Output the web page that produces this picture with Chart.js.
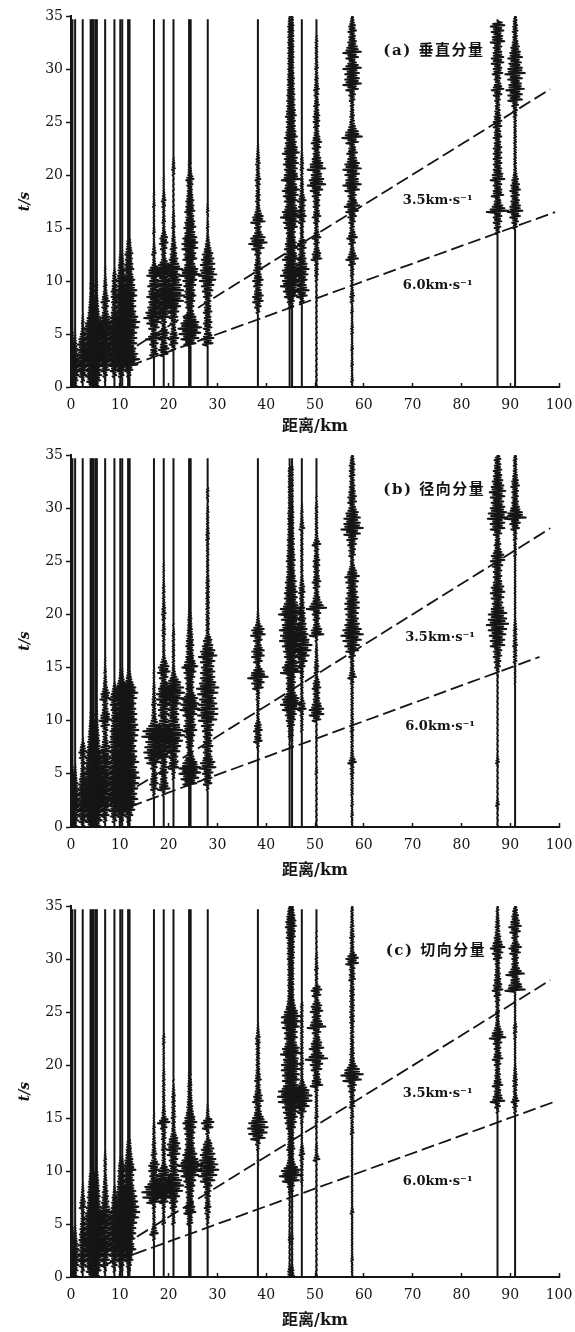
<!DOCTYPE html>
<html>
<head>
<meta charset="utf-8">
<script src="https://cdn.jsdelivr.net/npm/chart.js@4"></script>
<style>
html, body { margin: 0; padding: 0; background: #fff; }
body { position: relative; width: 575px; height: 1332px; overflow: hidden; }
.panel { position: absolute; left: 0; width: 575px; filter: blur(0.4px); }
</style>
</head>
<body>
<div class="panel" style="top:0;height:440px"><canvas id="chartA"></canvas></div>
<div class="panel" style="top:440px;height:440px"><canvas id="chartB"></canvas></div>
<div class="panel" style="top:890px;height:442px"><canvas id="chartC"></canvas></div>
<script>
// station distances in km
const stationKm = [0.3, 0.85, 2.4, 4.0, 4.3, 4.6, 5.0, 5.3, 7.0, 8.9, 10.1, 10.5, 11.7, 12.0, 17.0, 19.0, 21.0, 24.2, 24.5, 28.0, 38.3, 44.8, 45.3, 47.3, 50.3, 57.6, 87.4, 91.0];

const xTicks = [0, 10, 20, 30, 40, 50, 60, 70, 80, 90, 100];
const yTicks = [0, 5, 10, 15, 20, 25, 30, 35];

// amplitude every 0.5 s, in tenths of a km
const v03 = [3,5,6,7,10,7,5,4,3,2,1];
const v08 = [3,5,7,9,9,7,5,4,2,1];
const v24 = [0,3,7,10,13,14,12,10,10,7,4,2,2,1];
const v45 = [3,7,9,8,11,13,14,13,11,13,15,14,10,6,4,3,2,1,1,1];
const v70 = [0,1,4,8,12,14,14,16,14,14,14,14,13,9,5,6,8,5,3,3,2,1,1];
const v89 = [0,0,4,8,12,14,14,14,14,14,14,14,10,8,6,5,5,6,6,4,4,3,1];
const v103 = [0,0,3,6,10,12,14,12,14,14,16,14,12,10,8,8,10,10,6,6,8,5,4,3,2,1];
const v118 = [0,0,2,6,16,20,16,12,14,14,14,18,20,16,12,12,12,14,14,10,10,6,8,6,5,6,3,2];
const v17 = [0,0,0,0,0,0,8,6,8,16,6,10,14,20,16,12,10,14,10,12,8,14,10,3,2,4,2,1,1,2,1,1,1,1,2,1,1];
const v19 = [0,0,0,0,0,0,8,10,6,10,10,4,5,12,14,16,22,18,14,16,12,18,22,10,4,4,6,8,7,3,2,3,2,2,3,4,2,1,1,1];
const v21 = [0,0,0,0,0,0,0,4,8,10,6,4,6,8,10,14,20,22,20,16,14,12,18,10,8,6,6,4,3,2,3,2,2,1,1,1,1,1,1,1,2,3,2,1];
const v243 = [0,0,0,0,0,0,0,0,10,16,20,22,16,10,4,6,8,10,8,10,12,20,14,8,12,10,14,14,12,8,10,8,6,8,6,6,4,3,4,6,2,1,1];
const v28 = [0,0,0,0,0,0,0,0,10,12,6,8,8,6,8,6,6,8,10,12,16,18,14,14,12,10,6,4,2,1,2,1,1,2,1];
const v38 = [0,0,0,0,0,0,0,0,0,0,0,0,0,0,3,6,10,10,6,8,10,6,8,6,4,6,12,18,14,6,6,14,10,5,3,4,4,3,4,5,3,3,4,3,2,1];
const v450 = [0,0,0,0,0,0,0,0,0,0,0,0,0,0,0,2,4,10,12,18,14,18,14,10,14,8,10,8,6,6,10,12,18,14,8,10,12,14,8,16,10,10,12,10,14,10,8,10,7,6,6,8,6,5,5,5,4,4,4,3,3,3,3,3,3,3,3,3,3,2];
const v47 = [0,0,0,0,0,0,0,0,0,0,0,0,0,0,0,0,4,10,14,8,10,12,14,10,8,6,8,8,3,3,3,6,8,6,6,8,4,3,3,2,2,3,3,2,1];
const v50 = [1,1,1,1,1,1,1,1,1,1,1,1,1,1,1,1,1,1,1,1,2,3,3,3,10,8,4,5,8,4,3,5,8,5,6,6,8,12,18,14,10,18,12,8,6,8,10,6,4,5,6,6,4,5,3,4,5,3,3,2,3,2,2,2,2,2,1];
const v57 = [1,2,1,1,2,1,1,2,1,1,2,2,1,1,2,1,3,4,2,2,2,3,3,6,12,6,3,6,10,5,4,6,8,12,15,8,8,14,18,12,14,18,14,8,10,6,12,20,12,6,4,4,3,3,5,6,12,18,14,14,18,8,12,18,10,8,6,8,6,3];
const v87 = [0,0,0,0,0,0,0,0,0,0,0,0,0,0,0,0,0,0,0,0,0,0,0,0,0,0,0,0,0,4,6,8,8,22,10,6,12,8,8,14,10,8,8,8,8,8,6,8,6,8,8,6,5,4,5,8,12,6,6,10,8,12,12,8,8,14,10,12,14];
const v91 = [0,0,0,0,0,0,0,0,0,0,0,0,0,0,0,0,0,0,0,0,0,0,0,0,0,0,0,0,0,0,4,6,10,15,10,8,8,10,8,6,3,2,2,2,2,2,2,2,2,2,2,3,4,6,14,14,18,12,14,20,14,12,14,10,8,5,4,5,4,3];

const r03 = [4,7,8,9,8,10,8,8,6,4,2,1];
const r08 = [3,6,8,10,10,8,8,6,5,3,2,1];
const r24 = [3,7,9,10,10,9,10,9,8,6,4,3,3,6,7,4,1];
const r45 = [6,10,12,14,16,16,18,16,14,14,14,12,12,10,8,6,5,4,3,2,1,1];
const r70 = [0,3,7,9,12,14,14,14,12,12,13,14,12,10,12,8,5,4,5,8,12,8,5,5,10,8,4,3,2,2,1,1];
const r89 = [0,4,8,10,12,14,12,12,14,12,12,10,10,10,8,10,10,8,8,6,6,5,6,8,10,6,3,1];
const r103 = [0,2,6,10,12,14,12,14,16,14,12,14,14,14,12,10,12,12,14,12,14,12,12,10,12,14,10,5,2,1];
const r118 = [0,2,6,10,14,16,14,16,18,20,18,14,18,14,14,12,14,16,18,16,14,14,12,12,14,16,12,6,3,1];
const r17 = [0,0,0,0,0,0,2,6,8,6,4,6,14,18,20,18,16,24,22,10,5,4,3,4,3,2,2,1,1,1];
const r19 = [0,0,0,0,0,0,3,12,8,6,8,7,6,12,18,20,20,22,18,14,8,10,10,12,14,14,10,6,8,12,10,5,2,2,2,2,3,3,2,3,4,3,2,2,2,2,1,1,1,1];
const r21 = [0,0,0,0,0,0,0,0,0,2,3,10,8,8,12,14,18,22,18,12,10,10,10,14,20,22,20,14,6,3,2,2,2,2,2,2,2,1,1];
const r243 = [0,0,0,0,0,0,0,0,12,16,20,20,12,6,3,5,6,8,12,10,8,12,18,16,14,6,6,6,8,10,14,8,6,5,6,5,4,3,2,2,1];
const r28 = [0,0,0,0,0,0,0,2,8,8,10,16,14,8,8,10,8,8,10,12,18,20,20,18,16,20,22,16,14,14,12,14,18,14,10,8,3,3,3,3,3,3,3,3,3,3,3,2,2,2,2,2,2,2,3,3,2,2,2,2,1,1,2,2];
const r38 = [0,0,0,0,0,0,0,0,0,0,0,0,0,0,1,2,8,6,8,6,2,2,2,2,3,3,10,12,20,12,4,8,12,12,6,8,14,12,4,2,1];
const r450 = [0,0,0,0,0,0,0,0,0,0,0,0,0,0,0,1,1,2,2,4,6,8,14,18,14,6,6,6,6,18,14,8,10,12,14,20,18,20,14,16,22,18,10,10,10,8,8,6,5,5,6,5,4,4,4,3,3,3,3,3,2,2,2,2,2,2,2,2];
const r47 = [0,0,0,0,0,0,0,0,0,0,0,0,0,0,0,0,0,0,2,2,2,3,8,6,2,2,2,2,3,3,6,10,14,18,20,14,12,10,8,7,6,5,4,4,6,5,3,2,2,2,2,2,2,2,2,2,5,3,2,2,1];
const r50 = [1,1,1,1,1,1,1,1,1,1,2,1,1,1,1,1,1,1,1,1,8,14,14,8,6,6,8,6,2,4,4,3,2,2,1,2,14,10,5,6,8,20,10,6,4,6,8,5,5,6,6,4,4,8,3,2,2,2,2,2,2,1,1];
const r57 = [1,1,2,1,2,1,2,2,2,2,3,3,8,3,2,2,2,2,3,3,2,2,2,2,2,2,2,3,8,4,3,3,6,12,14,18,22,18,14,12,12,14,14,12,10,10,12,14,8,4,3,6,6,8,10,16,22,16,16,12,6,8,8,6,5,4,5,5,5,3];
const r87 = [1,1,1,1,3,1,1,1,1,1,1,1,3,1,1,1,1,1,1,1,1,1,1,1,1,1,1,1,1,3,5,6,8,8,14,14,16,18,22,18,18,12,10,12,14,12,8,8,8,10,14,12,6,6,4,8,14,14,20,18,14,12,14,16,12,10,8,8,6,6];
const r91 = [0,0,0,0,0,0,0,0,0,0,0,0,0,0,0,0,0,0,0,0,0,0,0,0,0,0,0,1,1,1,1,3,3,3,4,3,3,3,2,1,1,1,1,1,1,1,1,1,1,1,1,2,2,2,3,3,8,10,22,14,8,6,6,6,8,6,4,3,3,3];

const t03 = [4,6,7,8,8,7,6,3,2,1];
const t08 = [3,5,7,9,8,7,5,3,2,1];
const t24 = [0,3,6,8,8,7,8,7,6,5,4,3,3,6,5,3,2,1];
const t45 = [4,8,10,12,14,14,16,14,14,14,14,14,10,8,6,6,5,4,3,2];
const t70 = [0,2,5,8,10,13,14,14,14,14,14,14,14,8,7,6,5,4,3,2,2,2,2,1];
const t89 = [0,2,5,8,10,13,13,11,12,12,12,12,8,6,5,4,2,1];
const t103 = [0,1,3,6,8,10,8,10,12,12,12,14,14,14,12,10,8,6,5,4,4,3,1];
const t118 = [0,1,3,6,8,12,8,10,12,12,14,18,20,18,16,14,12,8,8,8,12,8,6,4,3,2];
const t17 = [0,0,0,0,0,0,0,2,8,4,2,2,2,3,14,22,24,18,8,8,10,10,4,5,3,3,2,2,2,1,1];
const t19 = [0,0,0,0,0,0,0,0,0,0,3,2,2,3,8,14,16,18,20,14,10,4,3,3,4,3,4,4,6,12,4,3,2,2,2,2,2,2,2,1,1,1,1,1,2,2];
const t21 = [0,0,0,0,0,0,0,0,0,0,3,2,4,6,8,12,18,20,16,10,8,8,8,12,14,12,8,4,3,3,4,3,3,3,3,2,1,1];
const t243 = [0,0,0,0,0,0,0,0,0,0,4,3,10,8,5,5,6,8,10,16,22,24,14,12,8,7,7,8,10,12,8,5,4,3,2,2,2,1,1];
const t28 = [0,0,0,0,0,0,0,0,0,0,2,3,5,6,4,5,6,8,14,18,22,20,16,14,12,8,2,3,10,12,3,2,1];
const t38 = [0,0,0,0,0,0,0,0,0,0,0,0,0,0,0,0,0,0,0,0,0,1,1,1,2,4,14,18,20,18,10,6,6,10,8,5,4,6,4,3,3,3,3,3,4,4,2,1];
const t450 = [4,3,1,1,1,1,1,2,1,1,1,1,1,1,1,1,2,4,14,20,16,6,3,3,5,3,3,3,6,8,10,12,14,22,24,22,12,14,14,16,16,12,18,14,8,10,10,14,16,16,10,6,4,3,3,3,3,3,3,3,4,4,4,4,6,6,8,7,5,3];
const t47 = [0,0,0,0,0,0,0,0,0,0,0,0,0,0,0,0,0,1,2,2,2,2,3,5,3,1,1,1,1,2,3,8,14,20,20,14,6,2,2,2,3,2,2,2,2,2,2,2,2,2,2,2];
const t50 = [1,1,1,1,1,1,1,1,1,1,1,1,1,1,1,1,1,1,1,1,1,1,6,2,2,1,1,1,1,2,3,2,2,2,2,3,12,8,6,10,12,22,10,14,10,6,8,18,10,8,12,10,4,8,10,2,2,2,3,2,2,1,1,1,1,1];
const t57 = [1,1,1,2,1,1,1,1,1,1,1,1,3,1,1,1,1,1,1,1,1,1,1,1,1,1,1,3,2,2,3,2,5,4,4,6,8,18,22,14,6,4,4,3,3,3,3,3,4,4,4,4,4,4,4,3,6,5,5,12,12,4,3,3,4,3,3,2,2,2];
const t87 = [0,0,0,0,0,0,0,0,0,0,0,0,0,0,0,0,0,0,0,0,0,0,0,0,0,0,0,0,0,0,0,2,5,14,8,6,10,6,5,4,6,10,6,6,8,16,10,5,3,3,3,3,4,6,10,8,6,5,4,4,8,10,14,8,6,4,4,3,2,2];
const t91 = [0,0,0,0,0,0,0,0,0,0,0,0,0,0,0,0,0,0,0,0,0,0,0,0,0,0,0,0,0,0,0,2,4,7,3,3,4,4,3,2,1,1,1,1,1,2,3,3,1,1,1,1,1,1,20,12,8,18,8,6,6,10,12,5,6,10,12,8,6,4];

// one amplitude list per station, same order as stationKm
const verticalAmps = [v03, v08, v24, v45, v45, v45, v45, v45, v70, v89, v103, v103, v118, v118, v17, v19, v21, v243, v243, v28, v38, v450, v450, v47, v50, v57, v87, v91];
const radialAmps = [r03, r08, r24, r45, r45, r45, r45, r45, r70, r89, r103, r103, r118, r118, r17, r19, r21, r243, r243, r28, r38, r450, r450, r47, r50, r57, r87, r91];
const tangentialAmps = [t03, t08, t24, t45, t45, t45, t45, t45, t70, t89, t103, t103, t118, t118, t17, t19, t21, t243, t243, t28, t38, t450, t450, t47, t50, t57, t87, t91];

// dashed velocity lines, [km, s] ends
const slowLineA = [[13.5, 3.9], [98.2, 28.1]];
const fastLineA = [[12, 2], [99.2, 16.5]];
const slowLineB = [[13.5, 3.8], [98.2, 28.1]];
const fastLineB = [[12, 1.9], [96, 16]];
const slowLineC = [[13.5, 3.8], [98.2, 28]];
const fastLineC = [[6, 1], [99.5, 16.6]];

const sampleStep = 0.5;
const ampUnit = 0.1;
const traceTop = 34.7;

// each amplitude sample is drawn as two swings either side of the station line,
// the second one shorter so the edge of a burst stays feathered
function traceData(km, amps) {
    const pts = [];
    amps.forEach(function (a, i) {
        for (let k = 0; k < 4; k++) {
            const side = k % 2 ? 1 : -1;
            const reach = k < 2 ? 1 : 0.65;
            pts.push({ x: km + side * reach * a * ampUnit, y: i * sampleStep + k * sampleStep / 4 });
        }
    });
    pts.push({ x: km, y: amps.length * sampleStep });
    pts.push({ x: km, y: traceTop });
    return pts;
}

const serif = '"DejaVu Serif", "Noto Sans CJK SC", serif';
const inkColor = '#151515';

// draws the panel caption and the two velocity labels at data positions
const panelLabels = {
    id: 'panelLabels',
    afterDatasetsDraw(chart, args, opts) {
        const ctx = chart.ctx;
        ctx.save();
        ctx.fillStyle = inkColor;
        ctx.textBaseline = 'middle';
        opts.items.forEach(function (it) {
            ctx.font = it.font;
            ctx.letterSpacing = it.spacing;
            ctx.fillText(it.text, chart.scales.x.getPixelForValue(it.km), chart.scales.y.getPixelForValue(it.t));
        });
        ctx.restore();
    }
};

const captionFont = '600 15px ' + serif;
const speedFont = 'bold 13px ' + serif;

function makeChart(id, amps, slowLine, fastLine, labels, padTop, titleBottom, xAxisHeight) {
    const datasets = stationKm.map(function (km, i) {
        return { data: traceData(km, amps[i]), borderColor: inkColor, borderWidth: 2, borderJoinStyle: 'round', pointRadius: 0, showLine: true };
    });
    [slowLine, fastLine].forEach(function (line) {
        datasets.push({
            data: line.map(function (p) { return { x: p[0], y: p[1] }; }),
            borderColor: inkColor, borderWidth: 1.8, borderDash: [13, 5], pointRadius: 0, showLine: true
        });
    });
    return new Chart(document.getElementById(id), {
        type: 'scatter',
        data: { datasets: datasets },
        plugins: [panelLabels],
        options: {
            responsive: true,
            maintainAspectRatio: false,
            animation: false,
            events: [],
            layout: { padding: { top: padTop, right: 16, left: 0, bottom: 0 } },
            plugins: {
                legend: { display: false },
                tooltip: { enabled: false },
                panelLabels: { items: labels }
            },
            scales: {
                x: {
                    type: 'linear', min: 0, max: 100,
                    afterBuildTicks: function (axis) { axis.ticks = xTicks.map(function (v) { return { value: v }; }); },
                    // tick padding otherwise eats into the plot width
                    afterFit: function (axis) { axis.height = xAxisHeight; axis.paddingRight = 0; axis.paddingLeft = 0; },
                    grid: { drawOnChartArea: false, tickLength: -4, tickWidth: 1.5, tickColor: inkColor },
                    border: { color: inkColor, width: 2 },
                    ticks: { color: inkColor, font: { family: serif, size: 14 }, padding: 14, maxRotation: 0, autoSkip: false },
                    title: { display: true, text: '距离/km', color: inkColor, font: { family: serif, size: 16, weight: 'bold' }, padding: { top: 0, bottom: titleBottom } }
                },
                y: {
                    type: 'linear', min: 0, max: 35,
                    afterBuildTicks: function (axis) { axis.ticks = yTicks.map(function (v) { return { value: v }; }); },
                    afterFit: function (axis) { axis.width = 71; },
                    grid: { drawOnChartArea: false, tickLength: 5, tickWidth: 1.5, tickColor: inkColor },
                    border: { color: inkColor, width: 2 },
                    ticks: { color: inkColor, font: { family: serif, size: 14 }, padding: 3, autoSkip: false },
                    title: { display: true, text: 't/s', color: inkColor, font: { family: serif, size: 14, style: 'italic', weight: 'bold' }, padding: { top: 17, bottom: 0 } }
                }
            }
        }
    });
}

makeChart('chartA', verticalAmps, slowLineA, fastLineA, [
    { text: '(a) 垂直分量', km: 64, t: 31.7, font: captionFont, spacing: '1.5px' },
    { text: '3.5km·s⁻¹', km: 68, t: 17.6, font: speedFont, spacing: '0px' },
    { text: '6.0km·s⁻¹', km: 68, t: 9.6, font: speedFont, spacing: '0px' }
], 16, 4, 53);
makeChart('chartB', radialAmps, slowLineB, fastLineB, [
    { text: '(b) 径向分量', km: 64, t: 31.7, font: captionFont, spacing: '1.5px' },
    { text: '3.5km·s⁻¹', km: 68.5, t: 17.8, font: speedFont, spacing: '0px' },
    { text: '6.0km·s⁻¹', km: 68.5, t: 9.4, font: speedFont, spacing: '0px' }
], 15, 0, 53);
makeChart('chartC', tangentialAmps, slowLineC, fastLineC, [
    { text: '(c) 切向分量', km: 64.5, t: 30.7, font: captionFont, spacing: '1.5px' },
    { text: '3.5km·s⁻¹', km: 68, t: 17.3, font: speedFont, spacing: '0px' },
    { text: '6.0km·s⁻¹', km: 68, t: 9, font: speedFont, spacing: '0px' }
], 16, 2, 55);
</script>
</body>
</html>
